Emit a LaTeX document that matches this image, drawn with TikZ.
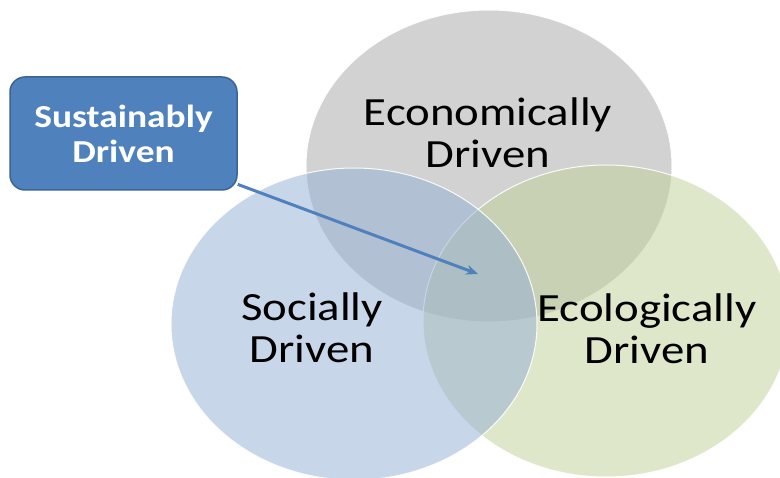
\documentclass[tikz,border=0pt]{standalone}
\usepackage{fontspec}
\usepackage{graphicx}
\setmainfont{Carlito}
\usetikzlibrary{arrows.meta}
\definecolor{graybase}{HTML}{A6A6A6}
\definecolor{bluebase}{HTML}{93AFD5}
\definecolor{greenbase}{HTML}{C1D199}
\definecolor{boxfill}{HTML}{4F81BD}
\definecolor{boxline}{HTML}{3A6496}
\newcommand{\sx}[1]{\scalebox{1.17}[1]{#1}}
\tikzset{
  venn/.style={fill opacity=0.5, draw=white, draw opacity=0.9, line width=1pt},
  vlabel/.style={font=\fontsize{40}{42}\selectfont, align=center, inner sep=0pt, text=black},
  sbox/.style={draw=boxline, line width=1.5pt, fill=boxfill, rounded corners=15pt,
    minimum width=227pt, minimum height=113pt, text=white, align=center, inner sep=0pt,
    font=\bfseries\fontsize{32}{35}\selectfont},
  link/.style={draw=boxfill, line width=3pt, -{Stealth[length=12pt,width=10pt]}}
}
\begin{document}
\begin{tikzpicture}[x=1pt,y=-1pt]
\useasboundingbox (0,0) rectangle (780,478);
\clip (0,0) rectangle (780,478);
\fill[white] (0,0) rectangle (780,478);
\path[venn, fill=graybase] (489,166) ellipse [x radius=183pt, y radius=156pt];
\path[venn, fill=greenbase] (606,321) ellipse [x radius=183pt, y radius=156pt];
\path[venn, fill=bluebase] (354,324) ellipse [x radius=183pt, y radius=156pt];
\node[vlabel] (eco) at (488,133) {\sx{Economically}\\\sx{Driven}};
\node[vlabel] (soc) at (312,328) {\sx{Socially}\\\sx{Driven}};
\node[vlabel] (ecol) at (647,328.5) {\sx{Ecologically}\\\sx{Driven}};
\node[sbox] (sd) at (123.5,133.5) {\sx{Sustainably}\\\sx{Driven}};
\coordinate (tip) at (478,274);
\draw[link] (sd.-24) -- (tip);
\end{tikzpicture}
\end{document}
